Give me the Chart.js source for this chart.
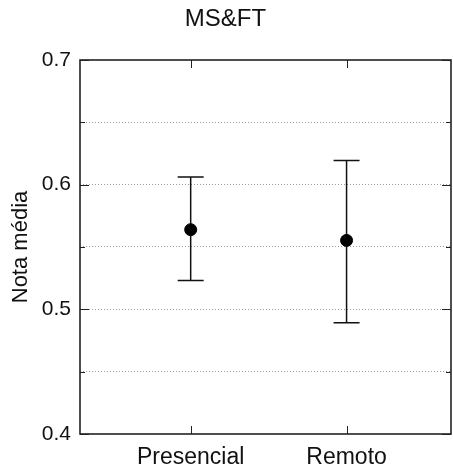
<!DOCTYPE html>
<html>
<head>
<meta charset="utf-8">
<script src="https://cdn.jsdelivr.net/npm/chart.js@4"></script>
<style>
  body { margin: 0; background: #fff; }
</style>
</head>
<body>
<canvas id="chart" width="453" height="470"></canvas>
<script>
const categories = ['Presencial', 'Remoto'];
const xPositions = [1, 2];
const means = [0.5639, 0.5553];
const upper = [0.6062, 0.6193];
const lower = [0.5232, 0.4892];
const yTickLabels = [0.4, 0.5, 0.6, 0.7];

const FONT = '"Liberation Sans", Arial, sans-serif';

// error bars, drawn under the markers
const errorBars = {
  id: 'errorBars',
  beforeDatasetsDraw(chart) {
    const { ctx, scales: { x, y } } = chart;
    ctx.save();
    ctx.strokeStyle = '#111';
    ctx.lineWidth = 1.5;
    xPositions.forEach((xv, i) => {
      const px = x.getPixelForValue(xv);
      const top = y.getPixelForValue(upper[i]);
      const bot = y.getPixelForValue(lower[i]);
      ctx.beginPath();
      ctx.moveTo(px, top); ctx.lineTo(px, bot);
      ctx.moveTo(px - 13, top); ctx.lineTo(px + 13, top);
      ctx.moveTo(px - 13, bot); ctx.lineTo(px + 13, bot);
      ctx.stroke();
    });
    ctx.restore();
  }
};

// box frame with inward ticks
const frame = {
  id: 'frame',
  afterDraw(chart) {
    const { ctx, chartArea: a, scales: { x, y } } = chart;
    ctx.save();
    ctx.strokeStyle = '#222';
    ctx.lineWidth = 1.6;
    ctx.strokeRect(a.left, a.top, a.right - a.left, a.bottom - a.top);
    ctx.lineWidth = 1;
    ctx.beginPath();
    y.ticks.forEach(t => {
      const py = Math.round(y.getPixelForValue(t.value)) + 0.5;
      const major = yTickLabels.some(v => Math.abs(v - t.value) < 1e-6);
      const len = major ? 9 : 5;
      ctx.moveTo(a.left, py); ctx.lineTo(a.left + len, py);
      ctx.moveTo(a.right, py); ctx.lineTo(a.right - len, py);
    });
    xPositions.forEach(xv => {
      const px = Math.round(x.getPixelForValue(xv)) + 0.5;
      ctx.moveTo(px, a.top); ctx.lineTo(px, a.top + 8);
      ctx.moveTo(px, a.bottom); ctx.lineTo(px, a.bottom - 8);
    });
    ctx.stroke();
    ctx.restore();
  }
};

new Chart(document.getElementById('chart'), {
  type: 'scatter',
  data: {
    datasets: [{
      data: xPositions.map((xv, i) => ({ x: xv, y: means[i] })),
      backgroundColor: '#000',
      borderColor: '#000',
      pointRadius: 6,
      pointHoverRadius: 6
    }]
  },
  options: {
    responsive: false,
    animation: false,
    layout: { autoPadding: false, padding: { left: 0, right: 2, top: 0, bottom: 0 } },
    plugins: {
      legend: { display: false },
      tooltip: { enabled: false },
      title: {
        display: true,
        text: 'MS&FT',
        color: '#111',
        font: { family: FONT, size: 24, weight: 'normal' },
        padding: { top: 5, bottom: 26.2 }
      }
    },
    scales: {
      x: {
        type: 'linear',
        min: 0.29,
        max: 2.67,
        afterBuildTicks: s => { s.ticks = xPositions.map(v => ({ value: v })); },
        afterFit: s => { s.height = 36; s.paddingLeft = 0; s.paddingRight = 0; },
        grid: { display: false },
        border: { display: false },
        ticks: {
          padding: 2,
          color: '#111',
          font: { family: FONT, size: 23 },
          callback: v => categories[xPositions.indexOf(v)] ?? ''
        }
      },
      y: {
        min: 0.4,
        max: 0.7,
        afterFit: s => { s.width = 80; },
        border: { display: false, dash: [1, 2] },
        grid: {
          drawTicks: false,
          lineWidth: 1,
          color: c => (c.tick && (c.tick.value <= 0.4001 || c.tick.value >= 0.6999)) ? 'rgba(0,0,0,0)' : '#9a9a9a'
        },
        title: {
          display: true,
          text: 'Nota média',
          color: '#111',
          font: { family: FONT, size: 22 },
          padding: { top: 8, bottom: 0 }
        },
        ticks: {
          stepSize: 0.05,
          padding: 9,
          color: '#111',
          font: { family: FONT, size: 21 },
          callback: v => yTickLabels.some(t => Math.abs(t - v) < 1e-6) ? v.toFixed(1) : ''
        }
      }
    }
  },
  plugins: [errorBars, frame]
});
</script>
</body>
</html>
